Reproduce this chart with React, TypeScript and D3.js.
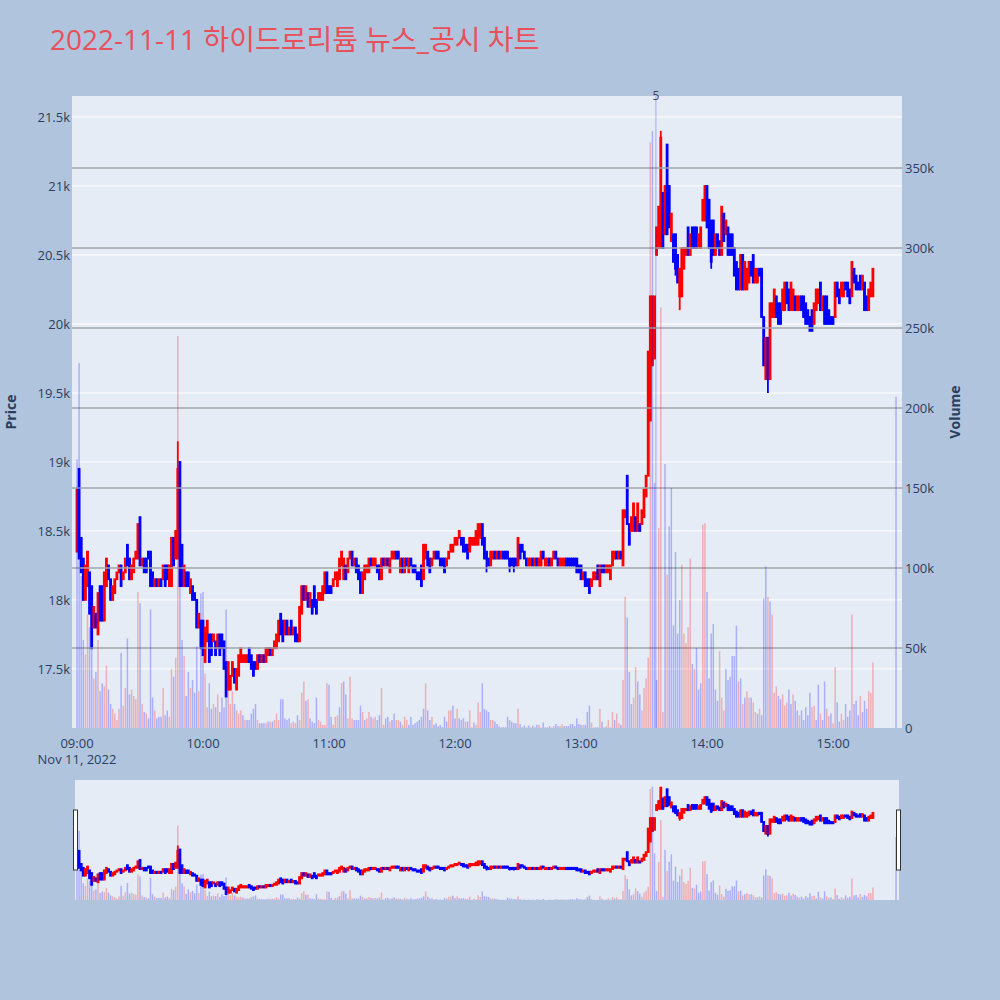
import React from "react";
import * as d3 from "d3";

const chartTitle = "2022-11-11 하이드로리튬 뉴스_공시 차트";
const tradeDate = "2022-11-11";
const sessionOpen = "09:00";
const closingAuctionTime = "15:30";

// one candle per minute from 09:00 to 15:19, then the 15:30 closing auction
const opens = [
  18350,18950,18450,18300,18000,18100,18200,18100,17800,17900,
  17750,18100,18100,17850,18100,18250,18150,18000,18050,18150,
  18200,18250,18150,18200,18400,18300,18150,18200,18300,18300,
  18600,18250,18300,18300,18350,18350,18200,18100,18150,18100,
  18150,18150,18250,18250,18100,18100,18450,18300,18300,19000,
  18400,18100,18200,18200,18050,18100,18050,18000,17800,17850,
  17850,17550,17700,17750,17750,17700,17700,17650,17750,17750,
  17700,17550,17350,17350,17450,17500,17350,17450,17550,17550,
  17550,17550,17650,17600,17550,17550,17500,17600,17550,17600,
  17550,17600,17650,17600,17650,17650,17700,17900,17850,17750,
  17850,17750,17850,17750,17800,17750,17700,17900,18100,18000,
  18050,17950,18000,18100,18000,18000,18000,18000,18050,18200,
  18100,18100,18100,18150,18100,18150,18250,18150,18250,18200,
  18300,18350,18250,18300,18250,18200,18050,18150,18200,18200,
  18300,18250,18250,18250,18250,18150,18300,18250,18300,18200,
  18300,18300,18350,18350,18200,18300,18200,18300,18200,18300,
  18250,18250,18200,18200,18250,18150,18300,18350,18300,18250,
  18300,18350,18350,18300,18300,18300,18250,18300,18350,18350,
  18400,18400,18450,18450,18450,18400,18400,18350,18400,18400,
  18400,18400,18450,18550,18450,18350,18300,18250,18300,18350,
  18300,18350,18300,18350,18350,18350,18300,18300,18300,18300,
  18250,18400,18400,18350,18300,18250,18250,18300,18250,18300,
  18250,18250,18350,18250,18250,18300,18250,18300,18350,18300,
  18250,18250,18250,18300,18300,18300,18300,18300,18300,18250,
  18250,18150,18200,18150,18150,18100,18150,18150,18250,18100,
  18250,18250,18200,18200,18150,18250,18300,18350,18300,18350,
  18250,18600,18900,18550,18500,18500,18600,18500,18550,18550,
  18600,18750,18900,19300,19700,19750,20500,20550,20550,20950,
  20650,21300,21000,20600,20650,20650,20500,20200,20200,20400,
  20500,20700,20500,20700,20700,20700,20550,20550,20750,20750,
  21000,20900,20750,20750,20500,20650,20600,20500,20800,20650,
  20700,20650,20650,20550,20450,20400,20250,20500,20250,20250,
  20300,20450,20500,20300,20300,20400,20400,20050,19600,19900,
  19600,20050,20050,20200,20150,20150,20100,20100,20300,20250,
  20100,20100,20200,20100,20100,20200,20200,20150,20100,20050,
  20100,20000,20100,20150,20300,20100,20200,20200,20100,20050,
  20050,20050,20300,20250,20200,20200,20300,20300,20250,20200,
  20400,20350,20300,20350,20250,20300,20200,20100,20200,20200,
  20400,
];

const closes = [
  18800,18300,18200,18000,18250,18350,17900,17650,17950,17800,
  18050,17850,17850,18200,18300,18150,18000,18100,18150,18200,
  18250,18100,18200,18300,18250,18150,18250,18300,18350,18550,
  18250,18300,18200,18200,18300,18100,18100,18150,18100,18150,
  18100,18250,18100,18150,18250,18450,18250,18500,18950,18100,
  18100,18250,18100,18100,18150,18000,18000,17800,17900,17650,
  17600,17800,17850,17550,17600,17750,17600,17750,17600,17650,
  17500,17300,17550,17450,17550,17400,17500,17600,17650,17600,
  17600,17600,17550,17500,17450,17500,17600,17550,17600,17550,
  17650,17650,17600,17650,17700,17750,17850,17750,17700,17850,
  17750,17800,17750,17800,17700,17700,17950,18100,18000,18100,
  17950,18050,17900,17950,17900,18050,18050,18100,18200,18050,
  18050,18050,18150,18200,18200,18300,18350,18300,18150,18300,
  18350,18250,18300,18200,18150,18050,18200,18250,18250,18300,
  18250,18300,18300,18200,18150,18300,18250,18300,18250,18300,
  18350,18350,18300,18300,18300,18200,18300,18250,18300,18250,
  18200,18200,18150,18150,18100,18400,18400,18250,18200,18300,
  18350,18300,18300,18250,18250,18200,18300,18350,18400,18400,
  18450,18450,18500,18400,18350,18350,18300,18450,18450,18450,
  18500,18550,18550,18400,18300,18300,18250,18350,18350,18300,
  18350,18300,18350,18300,18300,18300,18250,18250,18250,18250,
  18450,18300,18350,18300,18250,18300,18300,18250,18300,18250,
  18300,18350,18300,18300,18300,18250,18300,18350,18300,18250,
  18300,18300,18300,18250,18250,18250,18250,18250,18200,18200,
  18150,18200,18100,18100,18050,18150,18200,18200,18150,18250,
  18200,18200,18250,18250,18250,18350,18350,18300,18350,18300,
  18650,18650,18550,18400,18600,18700,18500,18700,18500,18650,
  18800,18900,19800,20200,20200,20200,20700,20850,21350,20550,
  21000,20650,20700,20800,20450,20400,20300,20400,20550,20550,
  20550,20500,20650,20550,20550,20550,20650,20700,20900,21000,
  20700,20550,20450,20500,20650,20550,20500,20850,20600,20750,
  20500,20500,20500,20350,20250,20250,20500,20250,20450,20400,
  20450,20350,20300,20400,20400,20350,20050,19700,19900,19600,
  20150,20150,20250,20050,20000,20000,20250,20300,20150,20100,
  20300,20250,20100,20200,20200,20100,20050,20000,20000,19950,
  19950,20150,20250,20250,20100,20200,20000,20000,20000,20000,
  20000,20300,20200,20150,20300,20300,20250,20200,20150,20450,
  20300,20250,20250,20250,20350,20100,20100,20250,20300,20400,
  20400,
];

// candles whose wick reaches beyond the body: [candle index, high, low]
const wickIndex = [48, 195, 206, 208, 278, 285, 287, 302, 329];
const wickHigh = [19150, 18350, 18300, 18300, 21400, 20650, 20400, 20750, 19900];
const wickLow = [18300, 18200, 18200, 18200, 20550, 20350, 20100, 20400, 19500];

// volume in thousands of shares
const volumesK = [
  168,228,95,55,46,71,63,80,31,35,
  55,23,28,26,39,24,15,12,9,5,
  12,47,14,25,56,21,24,20,18,85,
  78,15,10,9,6,74,19,11,6,7,
  7,25,8,11,7,37,32,44,245,110,
  55,45,20,35,25,30,22,51,23,84,
  85,34,13,28,12,15,13,21,10,19,
  13,74,34,15,23,15,11,9,11,8,
  5,5,5,9,12,15,5,3,3,3,
  3,4,4,4,5,9,5,18,18,6,
  5,6,3,4,3,8,5,22,29,17,
  18,6,4,3,19,5,4,2,2,28,
  27,7,2,7,8,13,28,29,21,6,
  32,6,5,5,5,14,10,5,6,10,
  7,6,7,5,8,25,2,6,7,4,
  5,9,5,5,4,2,7,5,2,7,
  2,3,4,5,7,12,28,11,5,7,
  2,3,1,2,0.5,7,4,11,11,14,
  6,12,6,5,6,4,4,11,0.5,3.5,
  2,16,10,28,12,11,10,5,5,4,
  2.5,1,0.5,0.5,0.5,7,5,4,3,3,
  12,2.5,0.5,1.5,0.4,1.5,0.4,1.5,0.4,2,
  2,0.4,3.4,0.4,0.4,1.2,0.4,1.2,2.5,1.2,
  1.2,2.5,1.2,1.2,1.2,2.5,2.5,1.2,6,2.5,
  2,2,2,10,14,3.4,0.4,0.4,0.4,12,
  4,0.4,1.2,5,0.4,10,5,9,3,2,
  30,82,69,35,15,19,38,29,21,11,
  25,31,44,366,373,153,30,125,263,10,
  165,96,126,150,64,110,59,80,102,59,
  53,63,106,40,37,50,24,28,127,128,
  85,31,59,65,24,17,48,19,11,37,
  30,32,45,45,64,29,31,15,19,23,
  19,19,16,10,9,12,8,81,101,82,
  79,71,22,26,20,18,21,14,16,24,
  15,21,17,11,8,11,5,13,8,22,
  13,14,5,27,9,5,29,12,7.5,9,
  3,38,16,4,9,5,15,7,11,71,
  15,17,8,20,10,17,12,23,22,41,
  207,
];

// r = rising bar, b = falling bar
const volumeSides = (
  "bbbbrrbbrb rbbrrbbrrr rbrrbbrrrr brbrbbbrbb brbbrrbrrb " +
  "brbbrbbbrb brrbbrbrbb bbrrrbrrrb rbbbbbrbbb rbrbrrrbbb " +
  "bbrrrbrrrb rbbbbrrrrr bbrrrbrbbr rrbbbbrbrr brrbbrrbbr " +
  "bbrrbrrrbb bbbbbbrbbr bbbbbbbrrb brbbbrbrrb rrrbbbbrrb " +
  "bbrbbbbbbb rbbbrbrbbb rrbbrbrrbb rrbbbbbbbb brbbbrrbbr " +
  "bbrrbrbrrb rrbbbrrbbr rrrrbbbrrr brbbbbbbrr rrrbrbbbrr " +
  "bbbbbbrrrb bbbbbrbrbr rbrrbrbbbr brrrbbrrrb brbbrbbbbb " +
  "rrbbrbbrrb rrbbrrbbbr bbbrbbbrrr b"
).replace(/ /g, "");

const priceTicks = [17500, 18000, 18500, 19000, 19500, 20000, 20500, 21000, 21500];
const priceTickLabels = ["17.5k", "18k", "18.5k", "19k", "19.5k", "20k", "20.5k", "21k", "21.5k"];
const volumeTicks = [0, 50000, 100000, 150000, 200000, 250000, 300000, 350000];
const volumeTickLabels = ["0", "50k", "100k", "150k", "200k", "250k", "300k", "350k"];
const hourTicks = ["09:00", "10:00", "11:00", "12:00", "13:00", "14:00", "15:00"];
const dateLabel = "Nov 11, 2022";
const newsTimes = ["13:35:40"];
const newsCounts = [5];

const UP = "#ff0000";
const DOWN = "#0000ff";
const FONT = "'Open Sans', verdana, arial, sans-serif";
const AXIS_COLOR = "#2a3f5f";
const TICK_SIZE = 13;

const parseTime = (hm: string) =>
  new Date(`${tradeDate}T${hm.length === 5 ? hm + ":00" : hm}`);

type Bar = { t: Date; o: number; h: number; l: number; c: number; v: number; side: string };

function Candles({ bars, x, y, clip }: { bars: Bar[]; x: any; y: any; clip: string }) {
  return (
    <g clipPath={`url(#${clip})`}>
      {bars.map((b, i) => {
        const col = b.c >= b.o ? UP : DOWN;
        const cx = x(b.t);
        const top = y(Math.max(b.o, b.c));
        const bot = y(Math.min(b.o, b.c));
        return (
          <g key={i}>
            <line x1={cx} x2={cx} y1={y(b.h)} y2={y(b.l)} stroke={col} strokeWidth={1.8} />
            <rect x={cx - 0.5} width={1} y={top} height={Math.max(bot - top, 0)}
              fill={col} stroke={col} strokeWidth={1.8} />
          </g>
        );
      })}
    </g>
  );
}

function Volumes({ bars, x, y, clip }: { bars: Bar[]; x: any; y: any; clip: string }) {
  return (
    <g clipPath={`url(#${clip})`}>
      {bars.map((b, i) => (
        <rect key={i} x={x(b.t) - 0.75} width={1.5} y={y(b.v)} height={y(0) - y(b.v)}
          fill={b.side === "r" ? UP : DOWN} fillOpacity={0.26} />
      ))}
    </g>
  );
}

export default function App() {
  const plot = { left: 72, right: 902, top: 96, bottom: 728 };
  const slider = { left: 72, right: 902, top: 780, bottom: 900 };

  const start = parseTime(sessionOpen);
  const closing = parseTime(closingAuctionTime);
  const bars: Bar[] = opens.map((o, i) => {
    const c = closes[i];
    const w = wickIndex.indexOf(i);
    return {
      t: i < opens.length - 1 ? d3.timeMinute.offset(start, i) : closing,
      o,
      c,
      h: w >= 0 ? wickHigh[w] : Math.max(o, c),
      l: w >= 0 ? wickLow[w] : Math.min(o, c),
      v: volumesK[i] * 1000,
      side: volumeSides[i],
    };
  });

  const x = d3
    .scaleTime()
    .domain([d3.timeSecond.offset(start, -143), d3.timeSecond.offset(closing, 171)])
    .range([plot.left, plot.right]);
  const priceDomain = [17072, 21652];
  const volDomain = [0, 395000];
  const yP = d3.scaleLinear().domain(priceDomain).range([plot.bottom, plot.top]);
  const yV = d3.scaleLinear().domain(volDomain).range([plot.bottom, plot.top]);
  const yPs = d3.scaleLinear().domain(priceDomain).range([slider.bottom, slider.top]);
  const yVs = d3.scaleLinear().domain(volDomain).range([slider.bottom, slider.top]);

  return (
    <svg width={1000} height={1000} style={{ position: "absolute", left: 0, top: 0, display: "block" }}
      fontFamily={FONT}>
      <defs>
        <clipPath id="mainClip">
          <rect x={plot.left} y={plot.top} width={plot.right - plot.left} height={plot.bottom - plot.top} />
        </clipPath>
        <clipPath id="sliderClip">
          <rect x={slider.left} y={slider.top} width={slider.right - slider.left} height={slider.bottom - slider.top} />
        </clipPath>
      </defs>
      <rect x={0} y={0} width={1000} height={1000} fill="#b0c4de" />

      <text x={50} y={50} fontSize={28} fill="#e8505b"
        fontFamily="'Open Sans', 'Noto Sans CJK KR', sans-serif">{chartTitle}</text>

      {/* main plot */}
      <rect x={plot.left} y={plot.top} width={plot.right - plot.left} height={plot.bottom - plot.top} fill="#e5ecf6" />
      {priceTicks.map((p) => (
        <line key={p} x1={plot.left} x2={plot.right} y1={yP(p)} y2={yP(p)} stroke="#ffffff" strokeWidth={1} />
      ))}
      <Candles bars={bars} x={x} y={yP} clip="mainClip" />
      {volumeTicks.slice(1).map((v) => (
        <line key={v} x1={plot.left} x2={plot.right} y1={yV(v)} y2={yV(v)} stroke="#a0a4aa" strokeWidth={1.4} />
      ))}
      <Volumes bars={bars} x={x} y={yV} clip="mainClip" />

      {newsTimes.map((nt, i) => {
        const nx = x(parseTime(nt));
        return (
          <g key={nt}>
            <line x1={nx} x2={nx} y1={plot.top} y2={plot.bottom} stroke={DOWN} strokeOpacity={0.3} strokeWidth={1} />
            <text x={nx} y={97} fontSize={12} fill="#444" textAnchor="middle" dominantBaseline="middle">
              {newsCounts[i]}
            </text>
          </g>
        );
      })}

      {/* left axis */}
      {priceTicks.map((p, i) => (
        <text key={p} x={70} y={yP(p)} fontSize={TICK_SIZE} fill={AXIS_COLOR} textAnchor="end" dominantBaseline="central">
          {priceTickLabels[i]}
        </text>
      ))}
      <text transform={`translate(10,${(plot.top + plot.bottom) / 2}) rotate(-90)`} fontSize={14}
        fontWeight="bold" fill={AXIS_COLOR} textAnchor="middle" dominantBaseline="central">Price</text>

      {/* right axis */}
      {volumeTicks.map((v, i) => (
        <text key={v} x={905} y={yV(v)} fontSize={TICK_SIZE} fill={AXIS_COLOR} textAnchor="start" dominantBaseline="central">
          {volumeTickLabels[i]}
        </text>
      ))}
      <text transform={`translate(954,${(plot.top + plot.bottom) / 2}) rotate(-90)`} fontSize={14}
        fontWeight="bold" fill={AXIS_COLOR} textAnchor="middle" dominantBaseline="central">Volume</text>

      {/* x axis */}
      {hourTicks.map((h) => (
        <text key={h} x={x(parseTime(h))} y={743} fontSize={TICK_SIZE} fill={AXIS_COLOR} textAnchor="middle"
          dominantBaseline="central">{h}</text>
      ))}
      <text x={x(start)} y={759} fontSize={TICK_SIZE} fill={AXIS_COLOR} textAnchor="middle" dominantBaseline="central">
        {dateLabel}
      </text>

      {/* range slider */}
      <rect x={slider.left + 3} y={slider.top} width={slider.right - slider.left - 6} height={slider.bottom - slider.top}
        fill="#e5ecf6" />
      <Candles bars={bars} x={x} y={yPs} clip="sliderClip" />
      <Volumes bars={bars} x={x} y={yVs} clip="sliderClip" />
      <rect x={slider.left + 1.5} y={810} width={4} height={60} fill="#ffffff" stroke="#333" strokeWidth={1} />
      <rect x={slider.right - 5.5} y={810} width={4} height={60} fill="#ffffff" stroke="#333" strokeWidth={1} />
    </svg>
  );
}
